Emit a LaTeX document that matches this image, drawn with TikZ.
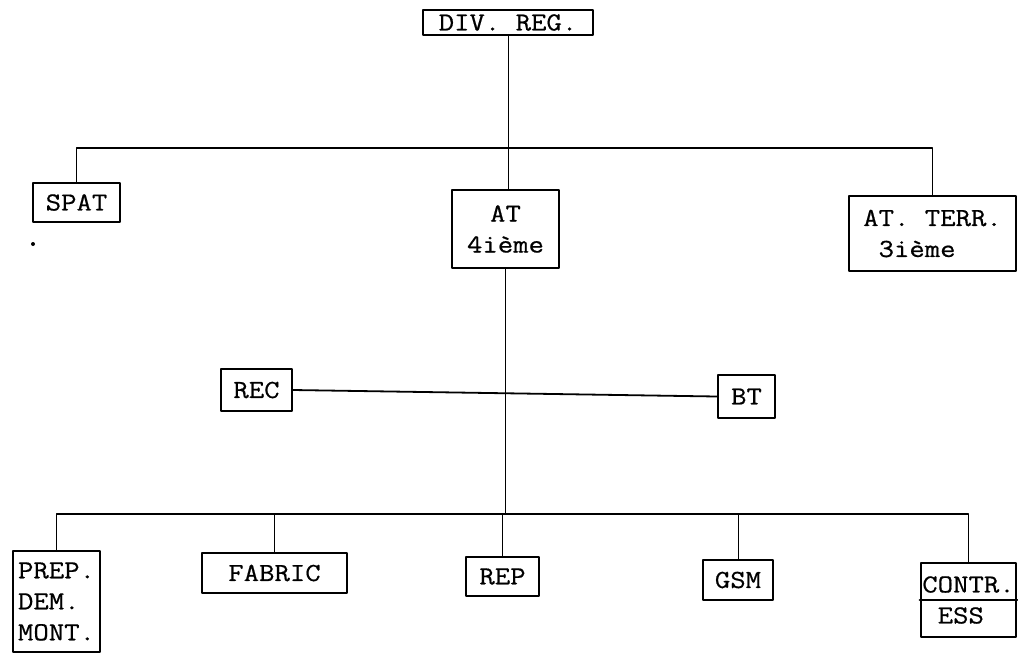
\documentclass[tikz,border=0pt]{standalone}
\usepackage{fontspec}
\setmonofont{Latin Modern Mono}[FakeStretch=1.15,FakeBold=0.6]
\begin{document}
\begin{tikzpicture}[x=0.5pt,y=-0.5pt,line join=round,line cap=round,
		font=\ttfamily\fontsize{13}{15.5}\selectfont,
		box/.style={draw,line width=1.2pt,inner sep=0pt,align=center},
		link/.style={line width=0.5pt},
		bus/.style={line width=0.9pt}]
	\useasboundingbox (0,0) rectangle (1018,655);
	% top level
	\node[box,minimum width=85pt,minimum height=12.5pt] (divreg) at (508,22.5) {DIV. REG.};
	\node[box,minimum width=43.5pt,minimum height=19.5pt] (spat) at (76.5,202.5) {SPAT};
	\node[box,minimum width=53.5pt,minimum height=39pt] (at) at (505.5,229) {AT\\4ième};
	\node[box,align=left,minimum width=83.5pt,minimum height=37.5pt] (atterr) at (932.5,233.5) {AT. TERR.\\~3ième};
	\fill (33,244) circle (1pt);
	% staff
	\node[box,minimum width=35.5pt,minimum height=21pt] (rec) at (256.5,390) {REC};
	\node[box,minimum width=28.5pt,minimum height=21.5pt] (bt) at (746.5,396.5) {BT};
	% bottom level
	\node[box,align=left,minimum width=43.5pt,minimum height=50.5pt] (prep) at (56.5,601.5) {PREP.\\DEM.\\MONT.};
	\node[box,minimum width=72.5pt,minimum height=20pt] (fabric) at (274.5,573) {FABRIC};
	\node[box,minimum width=36.5pt,minimum height=19.5pt] (rep) at (502.5,576.5) {REP};
	\node[box,minimum width=35pt,minimum height=20pt] (gsm) at (738,580) {GSM};
	\node[box,align=left,minimum width=47.5pt,minimum height=37pt] (contr) at (968.5,600) {CONTR.\\~ESS};
	\draw[line width=1.2pt] (contr.west) -- (contr.east);
	% connectors
	\coordinate (topbus) at (508,148);
	\coordinate (botbus) at (505.5,514);
	\draw[link] (divreg.south) -- (divreg.south |- at.north);
	\draw[bus] (spat.north) |- (topbus) -| (atterr.north);
	\draw[bus] (rec.east) -- (bt.west);
	\draw[link] (at.south) -- (botbus);
	\draw[bus] (prep.north) |- (botbus) -| (contr.north);
	\foreach \n in {fabric,rep,gsm}
	\draw[link] (\n.north) -- (\n.north |- botbus);
\end{tikzpicture}
\end{document}
